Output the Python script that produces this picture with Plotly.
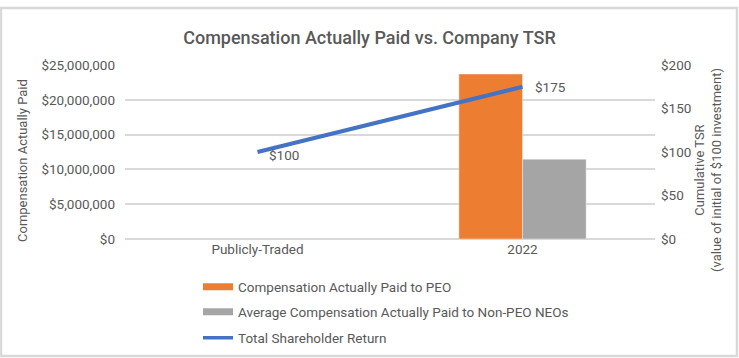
import plotly.graph_objects as go

categories = ["Publicly-Traded", "2022"]
cap_peo = [None, 23700000]
cap_non_peo = [None, 11450000]
tsr = [100, 175]
tsr_labels = ["$100", "$175"]

left_ticks = [0, 5000000, 10000000, 15000000, 20000000, 25000000]
left_ticktext = ["$0", "$5,000,000", "$10,000,000", "$15,000,000", "$20,000,000", "$25,000,000"]
right_ticks = [0, 50, 100, 150, 200]
right_ticktext = ["$0", "$50", "$100", "$150", "$200"]

FONT = "Roboto"
GRAY = "#595959"
ORANGE = "#ED7D31"
LGRAY = "#A5A5A5"
BLUE = "#4472C4"
TICK = 13.5

fig = go.Figure()
fig.add_trace(go.Bar(x=categories, y=cap_peo, name="Compensation Actually Paid to PEO",
                     marker_color=ORANGE, yaxis="y", showlegend=False))
fig.add_trace(go.Bar(x=categories, y=cap_non_peo, name="Average Compensation Actually Paid to Non-PEO NEOs",
                     marker_color=LGRAY, yaxis="y", showlegend=False))
fig.add_trace(go.Scatter(x=categories, y=tsr, name="Total Shareholder Return", mode="lines",
                         line=dict(color=BLUE, width=4), yaxis="y2", showlegend=False))

# legend entries (no visible marks)
fig.add_trace(go.Scatter(x=[categories[0]], y=[None], mode="lines", name="Compensation Actually Paid to PEO",
                         line=dict(color=ORANGE, width=7), legend="legend", yaxis="y2"))
fig.add_trace(go.Scatter(x=[categories[0]], y=[None], mode="lines",
                         name="Average Compensation Actually Paid to Non-PEO NEOs",
                         line=dict(color=LGRAY, width=7), legend="legend2", yaxis="y2"))
fig.add_trace(go.Scatter(x=[categories[0]], y=[None], mode="lines", name="Total Shareholder Return",
                         line=dict(color=BLUE, width=3.5), legend="legend3", yaxis="y2"))

def ypaper(px):
    return (239 - px) / 174

def xpaper(px):
    return (px - 125) / 530

leg_common = dict(orientation="v", xanchor="left", yanchor="middle",
                  font=dict(size=TICK, color=GRAY, family=FONT), bgcolor="rgba(0,0,0,0)",
                  borderwidth=0)

# data labels positioned at the category index (category position on the axis)
annotations = [
    dict(x=categories.index(categories[i]), y=tsr[i], xref="x", yref="y2", text=tsr_labels[i],
         showarrow=False, xanchor="left", yanchor="middle", xshift=xs, yshift=ys,
         font=dict(size=TICK, color=GRAY, family=FONT))
    for i, (xs, ys) in enumerate([(9, -3), (10, 0)])
]
annotations.append(dict(x=xpaper(22), y=ypaper(161), xref="paper", yref="paper",
                        text="Compensation Actually Paid", textangle=-90, showarrow=False,
                        xanchor="center", yanchor="middle",
                        font=dict(size=13, color=GRAY, family=FONT)))
annotations.append(dict(x=xpaper(708), y=ypaper(170), xref="paper", yref="paper",
                        text="Cumulative TSR<br>(value of initial of $100 investment)", textangle=-90,
                        showarrow=False, xanchor="center", yanchor="middle",
                        font=dict(size=13, color=GRAY, family=FONT)))

fig.update_layout(
    width=739, height=358,
    margin=dict(l=125, r=84, t=65, b=119, autoexpand=False),
    paper_bgcolor="white", plot_bgcolor="white",
    font=dict(family=FONT, color=GRAY, size=TICK),
    title=dict(text="Compensation Actually Paid vs. Company TSR", x=0.5, xanchor="center",
               xref="container", y=1 - 38 / 358, yanchor="middle",
               font=dict(size=18, color=GRAY, family=FONT, weight=500)),
    barmode="group", bargap=0.52, bargroupgap=0,
    showlegend=True,
    legend=dict(x=xpaper(198), y=ypaper(287), **leg_common),
    legend2=dict(x=xpaper(198), y=ypaper(312), **leg_common),
    legend3=dict(x=xpaper(198), y=ypaper(338), **leg_common),
    xaxis=dict(type="category", categoryorder="array", categoryarray=categories,
               range=[-0.5, len(categories) - 0.5], autorange=False,
               showgrid=False, showline=False, ticks="", automargin=False,
               tickfont=dict(size=TICK, color=GRAY, family=FONT)),
    yaxis=dict(range=[0, 25000000], tickvals=left_ticks, ticktext=left_ticktext, automargin=False,
               showgrid=True, gridcolor="#D9D9D9", gridwidth=1.5, zeroline=True,
               zerolinecolor="#D9D9D9", zerolinewidth=1.5, ticklabelstandoff=9,
               tickfont=dict(size=TICK, color=GRAY, family=FONT)),
    yaxis2=dict(range=[0, 200], tickvals=right_ticks, ticktext=right_ticktext, overlaying="y",
                side="right", showgrid=False, zeroline=False, automargin=False, ticklabelstandoff=5,
                tickfont=dict(size=TICK, color=GRAY, family=FONT)),
    annotations=annotations,
    shapes=[dict(type="rect", xref="paper", yref="paper", x0=xpaper(1), x1=xpaper(737),
                 y0=ypaper(356), y1=ypaper(8), line=dict(color="#D9D9D9", width=2.5),
                 fillcolor="rgba(0,0,0,0)", layer="below")],
)

fig.write_html("out.html", config={"displayModeBar": False},
               post_script="document.body.style.margin='0';")
